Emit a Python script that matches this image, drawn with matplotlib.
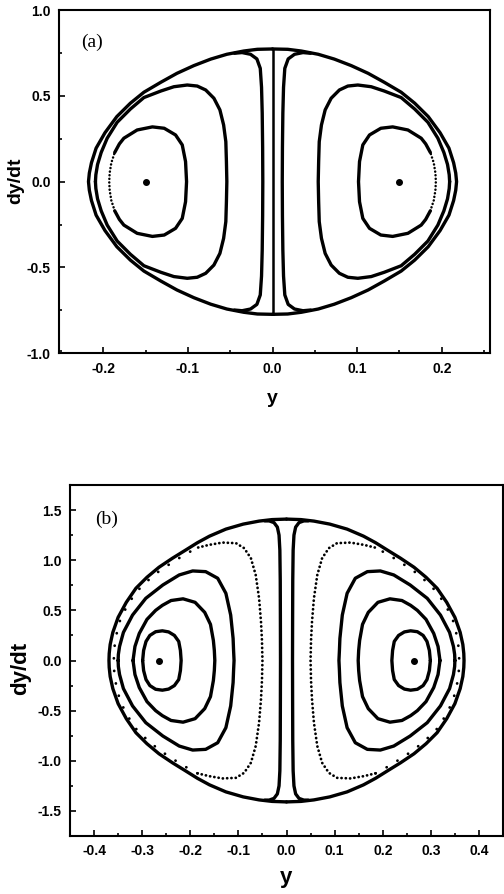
import numpy as np
import matplotlib
matplotlib.use("Agg")
import matplotlib.pyplot as plt
from matplotlib.ticker import MultipleLocator, FormatStrFormatter

plt.rcParams["font.family"] = ["Liberation Sans", "DejaVu Sans"]
plt.rcParams["font.weight"] = "bold"
plt.rcParams["axes.unicode_minus"] = False

# ---- panel (a): orbits round the right-hand centre, upper half (y, dy/dt) ----
A_CENTRE = 0.15
# outer orbit, from y=0 to its turning point
A_OUT_Y = [0.0, 0.018, 0.034, 0.054, 0.073, 0.093, 0.113, 0.132, 0.152, 0.168, 0.184, 0.198,
           0.2085, 0.214, 0.2165, 0.2175]
A_OUT_V = [0.773, 0.771, 0.761, 0.742, 0.714, 0.676, 0.631, 0.579, 0.521, 0.457, 0.379, 0.285,
           0.195, 0.11, 0.05, 0.0]
# orbit hugging the barrier at y=0 (visible part, turning point first)
A_WALL_Y = [0.0115, 0.0117, 0.0122, 0.013, 0.0145, 0.0185, 0.026, 0.036, 0.045]
A_WALL_V = [0.0, 0.2, 0.4, 0.55, 0.66, 0.715, 0.742, 0.752, 0.748]
# middle orbit, inner turning point first
A_MID_Y = [0.054, 0.0545, 0.0552, 0.0578, 0.0622, 0.0693, 0.079, 0.089, 0.1008, 0.1166, 0.132,
           0.152, 0.168, 0.1836, 0.1954, 0.2025, 0.2068, 0.2088, 0.2093]
A_MID_V = [0.0, 0.117, 0.233, 0.330, 0.418, 0.486, 0.534, 0.557, 0.563, 0.553, 0.528,
           0.49, 0.423, 0.346, 0.253, 0.17, 0.10, 0.04, 0.0]
# inner orbit, inner turning point first
A_IN_Y = [0.1016, 0.1028, 0.1067, 0.1146, 0.128, 0.142, 0.160, 0.1757, 0.181, 0.1865, 0.1905, 0.1925, 0.193]
A_IN_V = [0.0, 0.117, 0.214, 0.272, 0.311, 0.319, 0.301, 0.253, 0.22, 0.17, 0.11, 0.05, 0.0]
A_IN_DOTTED_BELOW = 0.18   # the outer flank of the inner orbit is sampled sparsely

# ---- panel (b) ----
B_CENTRE = 0.265
B_OUT_Y = [0.0, 0.03, 0.057, 0.09, 0.126, 0.16, 0.185, 0.21, 0.237, 0.265, 0.29, 0.313, 0.333,
           0.35, 0.361, 0.3665, 0.3685, 0.369]
B_OUT_V = [1.41, 1.405, 1.39, 1.36, 1.31, 1.24, 1.175, 1.10, 1.02, 0.93, 0.83, 0.72, 0.58,
           0.43, 0.28, 0.16, 0.07, 0.0]
B_WALL_Y = [0.0125, 0.0127, 0.013, 0.0138, 0.0155, 0.019, 0.026, 0.036, 0.045]
B_WALL_V = [0.0, 0.4, 0.8, 1.1, 1.25, 1.33, 1.375, 1.392, 1.392]
# dotted orbit, inner turning point first
B_DOT_Y = [0.050, 0.051, 0.053, 0.057, 0.064, 0.074, 0.088, 0.105, 0.133, 0.161, 0.185,
           0.21, 0.237, 0.265, 0.29, 0.313, 0.332, 0.346, 0.354, 0.358, 0.359]
B_DOT_V = [0.0, 0.2, 0.386, 0.62, 0.853, 1.02, 1.12, 1.17, 1.176, 1.153, 1.125,
           1.06, 0.98, 0.89, 0.79, 0.68, 0.54, 0.40, 0.25, 0.12, 0.0]
B_DOT_DENSE_TO = 0.185
B_F3_Y = [0.109, 0.110, 0.111, 0.116, 0.126, 0.143, 0.168, 0.195, 0.223, 0.257, 0.2925, 0.320,
          0.339, 0.347, 0.3495, 0.350]
B_F3_V = [0.0, 0.1, 0.22, 0.453, 0.67, 0.82, 0.886, 0.893, 0.853, 0.753, 0.62, 0.453,
          0.28, 0.14, 0.06, 0.0]
B_F2_Y = [0.149, 0.150, 0.152, 0.158, 0.170, 0.190, 0.215, 0.240, 0.258, 0.272, 0.290, 0.306,
          0.315, 0.319]
B_F2_V = [0.0, 0.1, 0.2, 0.36, 0.48, 0.58, 0.615, 0.598, 0.55, 0.50, 0.41, 0.27, 0.14, 0.0]
B_F1_Y = [0.219, 0.2205, 0.224, 0.233, 0.245, 0.258, 0.272, 0.284, 0.292, 0.297, 0.299]
B_F1_V = [0.0, 0.10, 0.19, 0.25, 0.285, 0.296, 0.287, 0.25, 0.19, 0.10, 0.0]

LW = 2.4
INK = "black"


def through_tip(y, v):
    """Points ordered from a turning point (v=0) outwards -> curve from -v through the tip to +v."""
    y = np.asarray(y, float); v = np.asarray(v, float)
    return np.r_[y[::-1], y[1:]], np.r_[-v[::-1], v[1:]]


def both_sides(ax, y, v, **kw):
    for s in (1, -1):
        ax.plot(s * y, v, color=INK, solid_capstyle="round", solid_joinstyle="round", **kw)


def dotted(ax, y, v, lw, gap):
    both_sides(ax, y, v, lw=lw, ls=(0, (0.05, gap)), dash_capstyle="round")


def style(ax, xlim, ylim, xmaj, ymaj):
    ax.set_xlim(*xlim); ax.set_ylim(*ylim)
    ax.xaxis.set_major_locator(MultipleLocator(xmaj))
    ax.xaxis.set_minor_locator(MultipleLocator(xmaj / 2))
    ax.yaxis.set_major_locator(MultipleLocator(ymaj))
    ax.yaxis.set_minor_locator(MultipleLocator(ymaj / 2))
    ax.xaxis.set_major_formatter(FormatStrFormatter("%.1f"))
    ax.yaxis.set_major_formatter(FormatStrFormatter("%.1f"))
    ax.tick_params(which="both", direction="in", top=False, right=False, width=1.2,
                   labelsize=10, pad=6)
    ax.tick_params(which="major", length=4.5)
    ax.tick_params(which="minor", length=2.5)
    for sp in ax.spines.values():
        sp.set_linewidth(1.5)


fig = plt.figure(figsize=(5.04, 8.94), dpi=100)
W, H = 504.0, 894.0

# ---------------- (a) ----------------
ax = fig.add_axes([59.3 / W, 1 - 353.3 / H, 430.7 / W, 343.3 / H])
style(ax, (-0.252, 0.257), (-1.0, 1.0), 0.1, 0.5)

both_sides(ax, *through_tip(A_OUT_Y[::-1], A_OUT_V[::-1]), lw=LW)
both_sides(ax, *through_tip(A_WALL_Y, A_WALL_V), lw=LW)
ax.plot([0, 0], [-A_OUT_V[0], A_OUT_V[0]], color=INK, lw=1.8)
both_sides(ax, *through_tip(A_MID_Y, A_MID_V), lw=LW)

iy, iv = np.array(A_IN_Y), np.array(A_IN_V)
k = int(np.argmax((iy > A_CENTRE) & (iv <= A_IN_DOTTED_BELOW)))
both_sides(ax, *through_tip(iy[:k + 1], iv[:k + 1]), lw=LW)
dotted(ax, *through_tip(iy[k:][::-1], iv[k:][::-1]), lw=1.8, gap=1.4)

both_sides(ax, np.array([A_CENTRE]), np.array([0.0]), ls="none", marker="o", ms=4)
ax.text(-0.226, 0.81, "(a)", family=["Liberation Serif", "DejaVu Serif"], weight="normal",
        fontsize=14, ha="left", va="center")

fig.text(272 / W, 1 - 398 / H, "y", fontsize=14, ha="center", va="center")
fig.text(16 / W, 1 - 181 / H, "dy/dt", fontsize=14, rotation=90, ha="center", va="center")

# ---------------- (b) ----------------
ax = fig.add_axes([70 / W, 1 - 836 / H, 433 / W, 351 / H])
style(ax, (-0.45, 0.45), (-1.75, 1.75), 0.1, 0.5)

both_sides(ax, *through_tip(B_OUT_Y[::-1], B_OUT_V[::-1]), lw=LW)
both_sides(ax, *through_tip(B_WALL_Y, B_WALL_V), lw=LW)

dy, dv = np.array(B_DOT_Y), np.array(B_DOT_V)
k = int(np.argmax(dy >= B_DOT_DENSE_TO))
dotted(ax, *through_tip(dy[:k + 1], dv[:k + 1]), lw=2.0, gap=1.5)
dotted(ax, *through_tip(dy[k:][::-1], dv[k:][::-1]), lw=2.0, gap=4.5)

for fy, fv in ((B_F3_Y, B_F3_V), (B_F2_Y, B_F2_V), (B_F1_Y, B_F1_V)):
    both_sides(ax, *through_tip(fy, fv), lw=LW)

both_sides(ax, np.array([B_CENTRE]), np.array([0.0]), ls="none", marker="o", ms=4)
ax.text(-0.397, 1.41, "(b)", family=["Liberation Serif", "DejaVu Serif"], weight="normal",
        fontsize=14, ha="left", va="center")

fig.text(286 / W, 1 - 877 / H, "y", fontsize=16, ha="center", va="center")
fig.text(21 / W, 1 - 668 / H, "dy/dt", fontsize=16, rotation=90, ha="center", va="center")

fig.savefig("out.png", dpi=100)
